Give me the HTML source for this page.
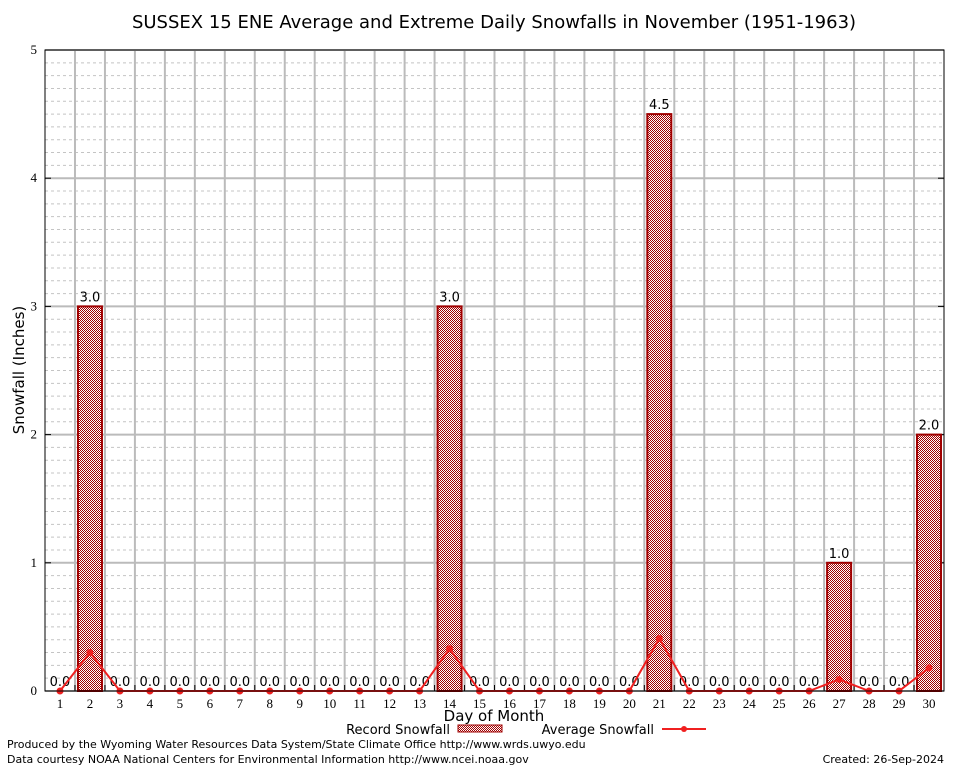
<!DOCTYPE html>
<html><head><meta charset="utf-8"><style>
body{margin:0;background:#fff;}
svg{display:block;font-family:"DejaVu Sans","Liberation Sans",sans-serif;}
</style></head><body>
<svg id="c" width="954" height="768" xmlns="http://www.w3.org/2000/svg">
<defs>
<pattern id="chk" width="2" height="2" patternUnits="userSpaceOnUse">
<rect width="2" height="2" fill="#fff"/><rect width="1" height="1" fill="#a00000"/><rect x="1" y="1" width="1" height="1" fill="#a00000"/>
</pattern>
</defs>
<rect width="954" height="768" fill="#fff"/>
<text x="494" y="28" font-size="18" text-anchor="middle">SUSSEX 15 ENE Average and Extreme Daily Snowfalls in November (1951-1963)</text>
<g id="grid"></g><g id="marks"></g>
<rect x="45" y="50" width="899" height="641" fill="none" stroke="#000" stroke-width="1"/>
<text transform="translate(24,370) rotate(-90)" font-size="15" text-anchor="middle">Snowfall (Inches)</text>
<text x="494" y="721" font-size="15" text-anchor="middle">Day of Month</text>
<g>
<text x="450" y="734" font-size="13" text-anchor="end">Record Snowfall</text>
<rect x="458" y="725" width="44" height="7" fill="url(#chk)" stroke="#a00000"/>
<text x="654" y="734" font-size="13" text-anchor="end">Average Snowfall</text>
<line x1="662" y1="729" x2="706" y2="729" stroke="#f02020" stroke-width="2"/>
<circle cx="684" cy="729" r="3" fill="#f02020"/>
</g>
<text x="7" y="748" font-size="11">Produced by the Wyoming Water Resources Data System/State Climate Office http://www.wrds.uwyo.edu</text>
<text x="7" y="763" font-size="11">Data courtesy NOAA National Centers for Environmental Information http://www.ncei.noaa.gov</text>
<text x="944" y="763" font-size="11" text-anchor="end">Created:  26-Sep-2024</text>
</svg>
<script>
const days=[1,2,3,4,5,6,7,8,9,10,11,12,13,14,15,16,17,18,19,20,21,22,23,24,25,26,27,28,29,30];
const recordSnow=[0,3.0,0,0,0,0,0,0,0,0,0,0,0,3.0,0,0,0,0,0,0,4.5,0,0,0,0,0,1.0,0,0,2.0];
const avgSnow=[0,0.30,0,0,0,0,0,0,0,0,0,0,0,0.33,0,0,0,0,0,0,0.41,0,0,0,0,0,0.09,0,0,0.18];
const yTicks=[0,1,2,3,4,5];
const NS="http://www.w3.org/2000/svg";
const X0=45,X1=944,Y0=691,Y1=50,YMAX=5;
const xs=d=>60+(d-1)*(869/29);
const ys=v=>Y0-(v/YMAX)*(Y0-Y1);
function mk(t,a,p){const e=document.createElementNS(NS,t);for(const k in a)e.setAttribute(k,a[k]);p.appendChild(e);return e;}
const g=document.getElementById('grid'),m=document.getElementById('marks');
for(let v=0.1;v<YMAX;v+=0.1){if(Math.abs(v-Math.round(v))<0.01)continue;
const l=mk('line',{x1:X0,x2:X1,y1:ys(v),y2:ys(v),stroke:'#c4c4c4','stroke-dasharray':'3,3','stroke-width':1},g);

}
yTicks.forEach(v=>{
const l=mk('line',{x1:X0,x2:X1,y1:ys(v),y2:ys(v),stroke:'#bbb','stroke-width':2},g);


mk('line',{x1:X0,x2:X0+6,y1:ys(v),y2:ys(v),stroke:'#000'},g);
mk('line',{x1:X1-6,x2:X1,y1:ys(v),y2:ys(v),stroke:'#000'},g);
const t=mk('text',{x:X0-8,y:ys(v)+4,'font-size':13,'text-anchor':'end','font-family':'Liberation Serif, serif'},g);t.textContent=v;

});
for(let i=1;i<days.length;i++){const x=(xs(days[i-1])+xs(days[i]))/2;
const l=mk('line',{x1:x,x2:x,y1:Y1,y2:Y0,stroke:'#bbb','stroke-width':2},g);


mk('line',{x1:x,x2:x,y1:Y0,y2:Y0-6,stroke:'#000'},g);}
days.forEach((d,i)=>{
const x=xs(d),v=recordSnow[i];
const t=mk('text',{x:x,y:Y0+17,'font-size':13,'text-anchor':'middle','font-family':'Liberation Serif, serif'},m);t.textContent=d;


if(v>0){const r=mk('rect',{x:x-12,y:ys(v),width:24,height:Y0-ys(v),fill:'url(#chk)',stroke:'#a00000','stroke-width':2},m);

}
const lb=mk('text',{x:x,y:ys(v)-5,'font-size':13,'text-anchor':'middle'},m);lb.textContent=v.toFixed(1);

});
const pts=days.map((d,i)=>xs(d)+','+ys(avgSnow[i])).join(' ');
const pl=mk('polyline',{points:pts,fill:'none',stroke:'#f02020','stroke-width':2},m);


days.forEach((d,i)=>{const c=mk('circle',{cx:xs(d),cy:ys(avgSnow[i]),r:3.5,fill:'#f02020'},m);

});
</script>
</body></html>
